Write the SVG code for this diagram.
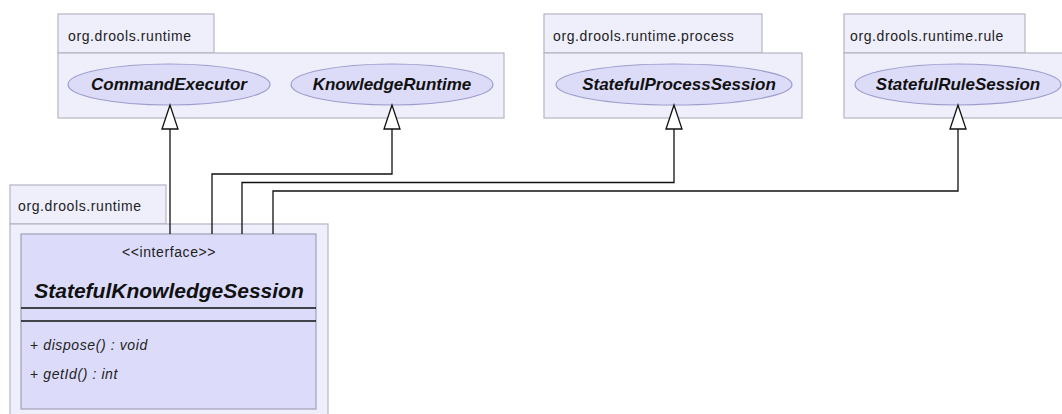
<svg xmlns="http://www.w3.org/2000/svg" width="1062" height="414" viewBox="0 0 1062 414">
<defs>
<style>
.pkg{fill:#efeffc;stroke:#b4b4c4;stroke-width:1.2}
.plabel{font-family:"Liberation Sans",Arial,sans-serif;font-size:14px;letter-spacing:0.6px;fill:#222}
.uc{fill:#dcdcf8;stroke:#9d9dcc;stroke-width:1.2}
.uct{font-family:"Liberation Sans",Arial,sans-serif;font-size:17px;font-weight:bold;font-style:italic;fill:#111;text-anchor:middle}
.cls{fill:#dcdcfa;stroke:#a0a0b8;stroke-width:1.2}
.conn{fill:none;stroke:#111;stroke-width:1.3}
.head{fill:#fff;stroke:#111;stroke-width:1.3}
.mt{font-family:"Liberation Sans",Arial,sans-serif;font-size:14px;letter-spacing:0.6px;font-style:italic;fill:#222}
</style>
</defs>
<rect width="1062" height="414" fill="#fff"/>
<g id="pkg-runtime-top">
<rect class="pkg" x="58" y="14" width="156" height="39"/>
<rect class="pkg" x="58" y="53" width="446" height="65"/>
<text class="plabel" x="68" y="41">org.drools.runtime</text>
</g>
<g id="CommandExecutor">
<ellipse class="uc" cx="169" cy="84.5" rx="101" ry="20.5"/>
<text class="uct" x="169" y="90">CommandExecutor</text>
</g>
<g id="KnowledgeRuntime">
<ellipse class="uc" cx="392" cy="84.5" rx="101" ry="20.5"/>
<text class="uct" x="392" y="90">KnowledgeRuntime</text>
</g>
<g id="pkg-process">
<rect class="pkg" x="544" y="14" width="218" height="39"/>
<rect class="pkg" x="544" y="53" width="258" height="65"/>
<text class="plabel" x="553" y="41">org.drools.runtime.process</text>
</g>
<g id="StatefulProcessSession">
<ellipse class="uc" cx="674" cy="84.5" rx="118" ry="20.5"/>
<text class="uct" x="679" y="90">StatefulProcessSession</text>
</g>
<g id="pkg-rule">
<rect class="pkg" x="844" y="14" width="181" height="39"/>
<rect class="pkg" x="844" y="53" width="230" height="65"/>
<text class="plabel" x="850" y="41">org.drools.runtime.rule</text>
</g>
<g id="StatefulRuleSession">
<ellipse class="uc" cx="958" cy="84.5" rx="103" ry="20.5"/>
<text class="uct" x="958" y="90">StatefulRuleSession</text>
</g>
<g id="pkg-runtime-bottom">
<rect class="pkg" x="10" y="185" width="156" height="39"/>
<rect class="pkg" x="10" y="224" width="318" height="200"/>
<text class="plabel" x="18" y="211">org.drools.runtime</text>
</g>
<g id="StatefulKnowledgeSession">
<rect class="cls" x="21" y="234" width="295" height="175"/>
<text x="169" y="257" text-anchor="middle" font-family="Liberation Sans, Arial, sans-serif" font-size="14" letter-spacing="0.6" fill="#222">&lt;&lt;interface&gt;&gt;</text>
<text x="169" y="298" text-anchor="middle" font-family="Liberation Sans, Arial, sans-serif" font-size="21" font-weight="bold" font-style="italic" fill="#111">StatefulKnowledgeSession</text>
<line x1="21" y1="308" x2="316" y2="308" stroke="#111" stroke-width="1.3"/>
<line x1="21" y1="321" x2="316" y2="321" stroke="#111" stroke-width="1.3"/>
<text class="mt" x="30" y="350"><tspan font-style="normal">+ </tspan>dispose() : void</text>
<text class="mt" x="30" y="379"><tspan font-style="normal">+ </tspan>getId() : int</text>
</g>
<g id="connectors">
<path class="conn" d="M170 234 V129"/>
<path class="conn" d="M212 234 V174 H392 V129"/>
<path class="conn" d="M242 234 V182.5 H674 V129"/>
<path class="conn" d="M273 234 V191 H958 V129"/>
<path class="head" d="M170 105 L162 129 L178 129 Z"/>
<path class="head" d="M392 105 L384 129 L400 129 Z"/>
<path class="head" d="M674 105 L666 129 L682 129 Z"/>
<path class="head" d="M958 105 L950 129 L966 129 Z"/>
</g>
</svg>
